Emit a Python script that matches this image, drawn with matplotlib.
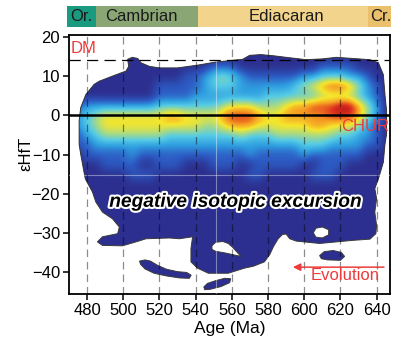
import matplotlib
matplotlib.use("Agg")
import matplotlib.pyplot as plt
import matplotlib.patheffects as pe
from matplotlib.colors import LinearSegmentedColormap
from matplotlib.path import Path
from matplotlib.patches import PathPatch
import numpy as np

plt.rcParams["font.family"] = ["Liberation Sans", "DejaVu Sans"]

RED = "#ec3b3b"

# geological time bar
periods = ["Or.", "Cambrian", "Ediacaran", "Cr."]
period_start = [468.9, 485, 541, 635]
period_end = [485, 541, 635, 648]
period_label_x = [477, 510, 590, 642]
period_colors = ["#1a9a7f", "#8aa674", "#f2d48c", "#ebc06c"]

age_ticks = [480, 500, 520, 540, 560, 580, 600, 620, 640]
ehf_ticks = [20, 10, 0, -10, -20, -30, -40]

dm_ehf = 14
chur_ehf = 0

# kernel density levels (1 = background .. 9 = peak)
# columns: ages 470..645 every 5 Ma, rows: eHf 15 .. -20 every 2.5
grid_ages = np.arange(470, 650, 5)
grid_ehf = [15, 12.5, 10, 7.5, 5, 2.5, 0, -2.5, -5, -7.5, -10, -12.5, -15, -17.5, -20]
density_rows = [
    "111111 111111 111111 111111 111111 111111",
    "111111 111111 111122 211111 111122 221111",
    "111111 111111 122345 432222 223344 433211",
    "111111 111122 222344 433333 345678 875321",
    "111111 111122 223333 333344 444455 554321",
    "123333 333344 444445 666555 677888 997531",
    "134566 666667 766667 888766 777778 887531",
    "134566 666666 666556 777666 666776 665321",
    "123455 555554 444444 454445 555555 443321",
    "122333 333333 333333 333333 334443 333221",
    "112222 232222 222222 223222 223222 222111",
    "111122 221122 211122 211222 221122 211111",
    "111111 122211 111111 112211 111222 111111",
    "111111 111111 111111 111111 111111 111111",
    "111111 111111 111111 111111 111111 111111",
]

# envelope of the density field (age, eHf)
outline_main = [
    (475.6, -1.4), (476.5, 2.0), (479.3, 5.3), (483.9, 7.9), (486.7, 8.7),
    (494, 10), (501.5, 11.3), (503, 12.5), (502.4, 14.3), (505, 14.8),
    (508, 14.5), (509.8, 13.4), (514.4, 12.5), (520, 12.1), (530, 12.1),
    (541, 12.8), (551.3, 13.6), (559.6, 14.0), (566, 14.3), (569.8, 15.3),
    (576, 15.5), (583, 15.2), (590, 14.8), (601, 14.2), (610, 14.4),
    (617.8, 14.8), (627, 14.5), (636.3, 14.2), (641, 13.4), (643.7, 10.4),
    (644.6, 5.3), (645.5, 1.1), (645.5, -4.8), (644.6, -7.4), (643.7, -12),
    (641, -16.2), (639, -18.7), (640, -21.3), (639, -24.7), (640, -28.1),
    (639.6, -30.2), (636.3, -31.6), (627, -31.9), (617.8, -32.3), (608.5, -32.7),
    (595.6, -32.1), (592, -31.5), (590, -30.3), (588, -30.4), (585.6, -31.5),
    (583, -33.5), (581, -35.5), (578, -37.4), (572, -38.5), (567, -39),
    (558, -40.3), (547, -40.3), (541, -39), (537.4, -37.4), (537.4, -34),
    (538.3, -31), (531, -31.5), (525.5, -31.3), (512.6, -31.5), (507, -32.3),
    (499.6, -33.3), (488.5, -33.2), (485.7, -32.3), (488.5, -31), (496.9, -30.2),
    (497.8, -28.5), (494, -26.4), (488.5, -24.7), (484.8, -22.1), (483, -19.6),
    (481, -17.9), (479, -16.2), (478.3, -14.5), (476.5, -10), (475.6, -7.4),
]
outline_holes = [
    [(549, -33.3), (551, -32.4), (555, -32.2), (558, -32.7), (560.5, -33.7),
     (563, -35), (565, -36), (561, -35.6), (556, -35.1), (551, -34.7), (549, -34.2)],
    [(605, -30), (606.5, -28.8), (610, -28.5), (613.5, -29.2), (613.5, -30.5),
     (610, -31.3), (606.5, -31.1)],
]
outline_islands = [
    [(509, -37.2), (512, -36.9), (515, -37.2), (519, -38.3), (524, -39.3),
     (530, -39.9), (535, -40.1), (537.5, -40.8), (536.5, -41.6), (531, -41.5),
     (524, -41), (517, -40.3), (512, -39.2), (509.5, -38)],
    [(544.5, -43.8), (546.5, -42.9), (551, -42.2), (556, -41.6), (559.3, -41.7),
     (558.8, -42.7), (554, -43.7), (548, -44.4), (545, -44.5)],
    [(608.5, -35.8), (611, -34.8), (616, -34.5), (620.5, -35), (622.3, -36),
     (620, -37), (613, -36.9), (609.5, -36.6)],
]

density_cmap = LinearSegmentedColormap.from_list("dens", [
    "#2c2f8f", "#2d5cc4", "#2f9fe0", "#55cbe6", "#a3d98a",
    "#f5e62c", "#f59a22", "#df2f1e", "#960d15",
])


def ring(points, clockwise):
    pts = np.asarray(points, float)
    x, y = pts[:, 0], pts[:, 1]
    area = 0.5 * np.sum(x * np.roll(y, -1) - np.roll(x, -1) * y)
    if (area < 0) != clockwise:
        pts = pts[::-1]
    codes = [Path.MOVETO] + [Path.LINETO] * (len(pts) - 1) + [Path.CLOSEPOLY]
    return Path(np.vstack([pts, pts[:1]]), codes)


body = Path.make_compound_path(
    ring(outline_main, False),
    *[ring(h, True) for h in outline_holes],
    *[ring(i, False) for i in outline_islands],
)

fig = plt.figure(figsize=(4.01, 3.41), dpi=100)
ax = fig.add_axes([69 / 401, 1 - 294 / 341, 321 / 401, 259 / 341])

fill = PathPatch(body, facecolor=density_cmap(0.0), edgecolor="none", zorder=1)
ax.add_patch(fill)

dens = np.array([[int(c) for c in row.replace(" ", "")] for row in density_rows], float)
half_a = (grid_ages[1] - grid_ages[0]) / 2
half_e = (grid_ehf[0] - grid_ehf[1]) / 2
img = ax.imshow(dens, cmap=density_cmap, vmin=1, vmax=9, origin="upper",
                extent=(grid_ages[0] - half_a, grid_ages[-1] + half_a,
                        grid_ehf[-1] - half_e, grid_ehf[0] + half_e),
                interpolation="bicubic", interpolation_stage="data",
                aspect="auto", zorder=2)
img.set_clip_path(fill)

ax.add_patch(PathPatch(body, facecolor="none", edgecolor="#3a3a3a", lw=0.7, zorder=3))

# faint guide lines through the field
ax.axvline(551.5, color="white", alpha=0.4, lw=0.8, zorder=3.5)
ax.axhline(-15.2, color="white", alpha=0.4, lw=0.8, zorder=3.5)

for a in age_ticks:
    ax.axvline(a, color="k", alpha=0.45, lw=0.9, ls=(0, (6, 4)), zorder=4)
ax.axhline(dm_ehf, color="k", lw=0.9, ls=(0, (9, 5)), zorder=4)
ax.axhline(chur_ehf, color="k", lw=1.8, zorder=5)

ax.text(471, 17, "DM", color=RED, fontsize=12, ha="left", va="center", zorder=6)
ax.text(620.3, -2.9, "CHUR", color=RED, fontsize=12, ha="left", va="center", zorder=6)
ax.text(622.6, -40.9, "Evolution", color=RED, fontsize=12, ha="center", va="center", zorder=6)
ax.annotate("", xy=(592.2, -38.75), xytext=(645.6, -38.75),
            arrowprops=dict(arrowstyle="-|>", color=RED, lw=1.1, mutation_scale=11),
            zorder=6)
ax.text(561.8, -22.2, "negative isotopic excursion", fontsize=13.8,
        fontweight="bold", fontstyle="italic", ha="center", va="center", zorder=6,
        path_effects=[pe.withStroke(linewidth=3, foreground="white")])

ax.set_xlim(470, 647.4)
ax.set_ylim(-45.6, 20.5)
ax.set_xticks(age_ticks)
ax.set_yticks(ehf_ticks)
ax.tick_params(direction="out", length=4, width=1.1, labelsize=12, pad=2.5)
for s in ax.spines.values():
    s.set_linewidth(1.3)
ax.set_xlabel("Age (Ma)", fontsize=12.5, labelpad=2)
ax.set_ylabel("εHfT", fontsize=12)
ax.yaxis.set_label_coords(-0.112, 0.542)

# time scale strip above the plot
bar = fig.add_axes([67 / 401, 1 - 27 / 341, 324 / 401, 21 / 341])
bar.barh(0, [e - s for s, e in zip(period_start, period_end)], left=period_start,
         height=1, color=period_colors)
for name, x in zip(periods, period_label_x):
    bar.text(x, 0, name, fontsize=12, ha="center", va="center", color="#1a1a1a")
bar.set_xlim(468.9, 647.9)
bar.set_ylim(-0.5, 0.5)
bar.set_axis_off()

fig.savefig("out.png", dpi=100)
